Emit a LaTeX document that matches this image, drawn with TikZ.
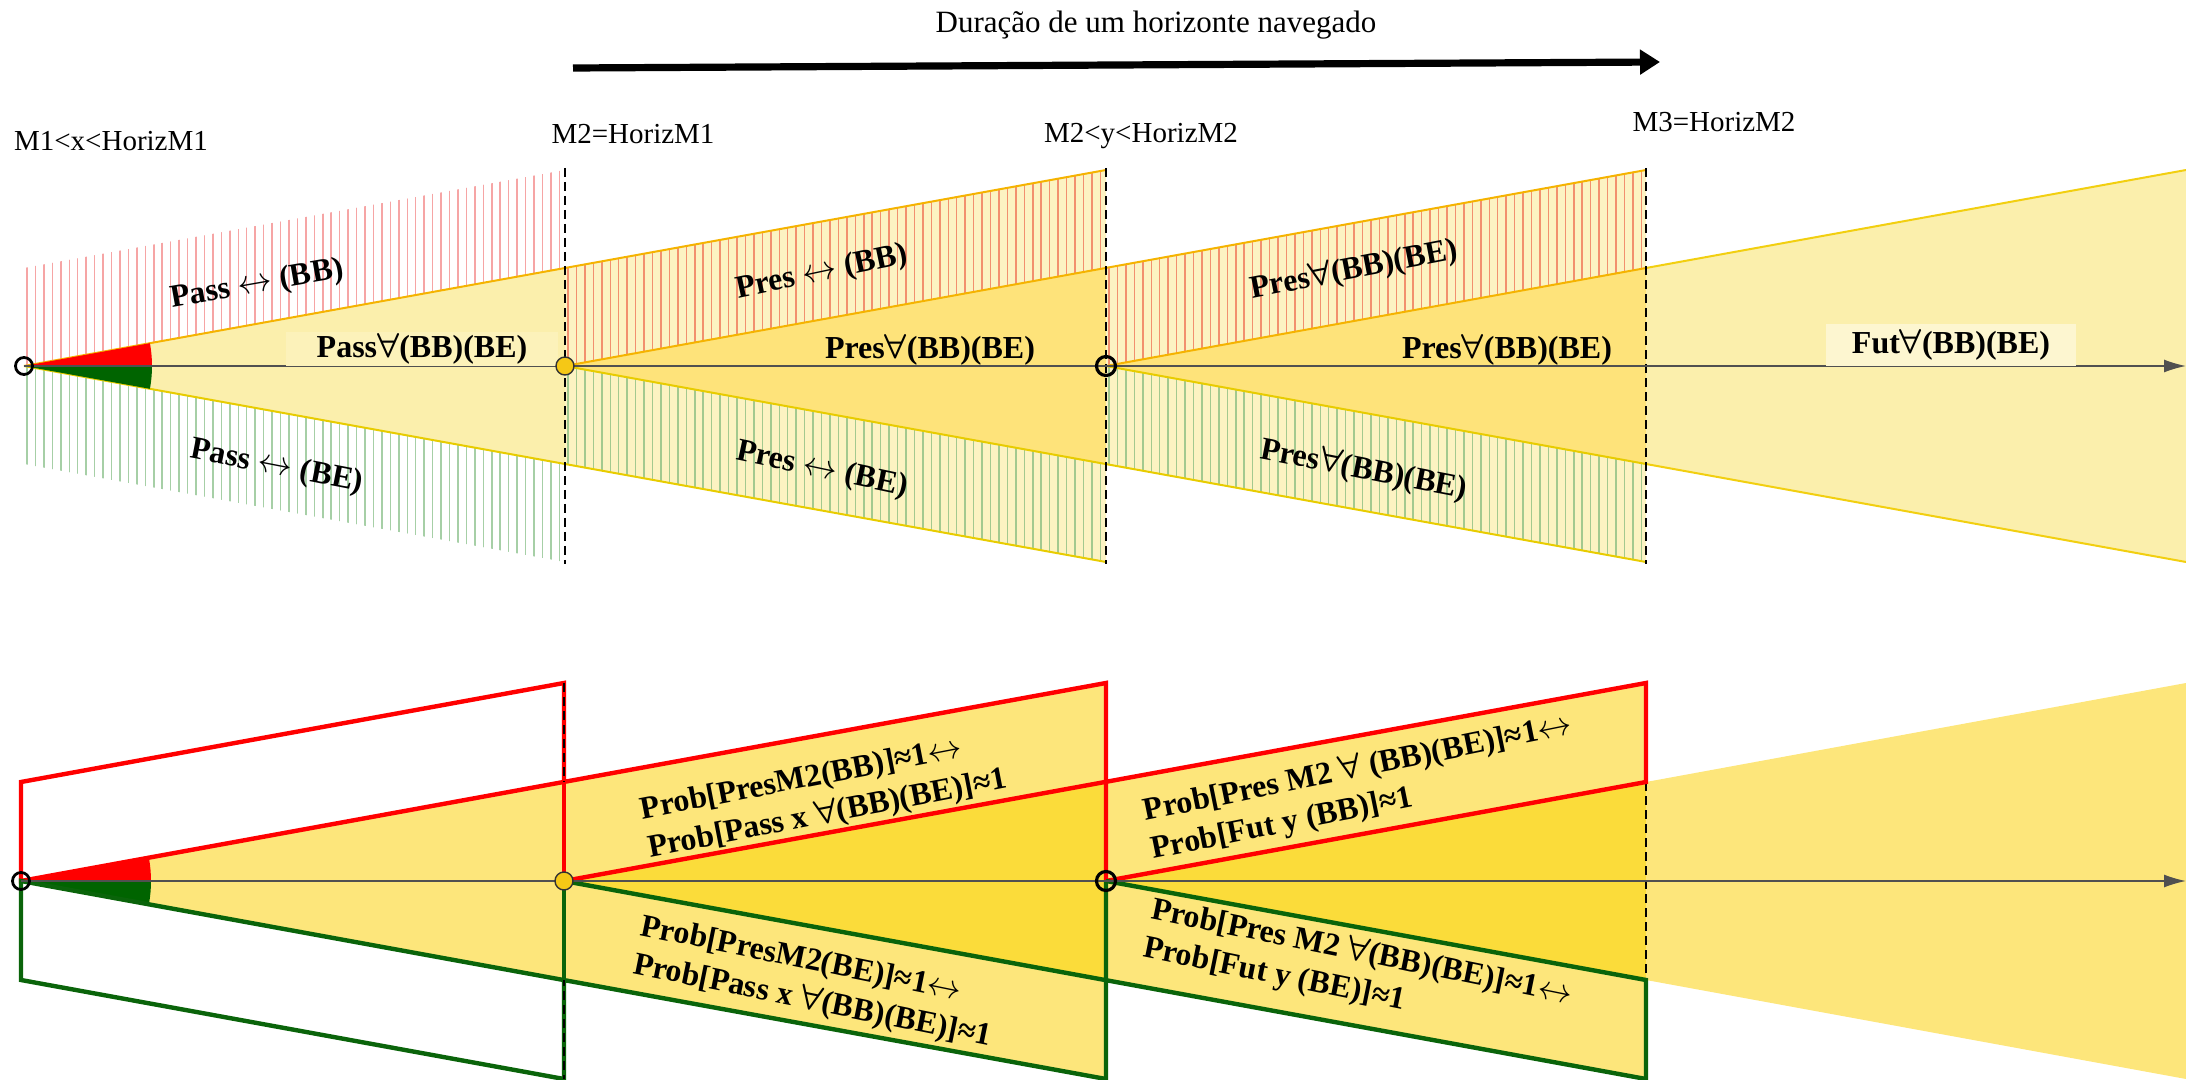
\documentclass[tikz,border=0pt]{standalone}
\usepackage{fontspec}
\setmainfont{Liberation Serif}
\usetikzlibrary{arrows.meta}
\newcommand\fa{{\boldmath$\forall$}}
\newcommand\lra{$\leftrightarrow$}
\definecolor{paleY}{HTML}{FBEFAC}
\definecolor{paleYb}{HTML}{FCF3C2}
\definecolor{goldY}{HTML}{FEE37A}
\definecolor{botY}{HTML}{FDE67B}
\definecolor{botG}{HTML}{FBDC3A}
\definecolor{boxF}{HTML}{FDF6D0}
\definecolor{boxP}{HTML}{FCF2BA}
\definecolor{hRa}{HTML}{F6A5A5}
\definecolor{hGa}{HTML}{A6CFA6}
\definecolor{hRb}{HTML}{F2906E}
\definecolor{hGb}{HTML}{A3C98F}
\definecolor{edgeOc}{HTML}{F5B300}
\definecolor{edgeYc}{HTML}{E8CC00}
\definecolor{edgeYd}{HTML}{F2CF10}
\definecolor{dgreen}{HTML}{006400}
\definecolor{lgreen}{HTML}{0A640A}
\definecolor{axc}{HTML}{505050}
\definecolor{dotY}{HTML}{F5C816}
\begin{document}
\begin{tikzpicture}[x=0.5pt,y=-0.5pt,
  lab/.style={font=\fontsize{16}{19.5}\selectfont\bfseries, inner sep=0pt},
  blab/.style={font=\fontsize{16}{19.5}\selectfont\bfseries, inner sep=0pt, align=left},
  mlab/.style={font=\fontsize{14.5}{17}\selectfont, inner sep=0pt, anchor=base},
  hatchRa/.style={draw=hRa, line width=0.75pt},
  hatchGa/.style={draw=hGa, line width=0.75pt},
  hatchRb/.style={draw=hRb, line width=0.75pt},
  hatchGb/.style={draw=hGb, line width=0.75pt},
  edgeO/.style={draw=edgeOc, line width=1pt},
  edgeY/.style={draw=edgeYc, line width=1pt},
  edgeYY/.style={draw=edgeYd, line width=1pt},
  dashln/.style={draw=black, line width=1.2pt, dash pattern=on 4.5pt off 2.5pt},
  axisln/.style={draw=axc, line width=0.75pt, -{Latex[length=11pt,width=6.5pt]}},
  redln/.style={draw=red, line width=2.2pt, line join=miter},
  greenln/.style={draw=lgreen, line width=2.2pt, line join=miter},
  ringc/.style={circle, draw=black, line width=1.4pt, minimum size=8.5pt, inner sep=0pt},
  dotc/.style={circle, draw=black!80, fill=dotY, line width=0.7pt, minimum size=9pt, inner sep=0pt}
]
\useasboundingbox (0,0) rectangle (2186,1080);

% ================= TITLE =================
\node[font=\fontsize{15.5}{18}\selectfont, anchor=base, inner sep=0pt] (title) at (1156,33) {Duração de um horizonte navegado};
\coordinate (ta) at (573,68);
\coordinate (tb) at (1660,62);
\draw[line width=3.6pt, -{Triangle[length=10pt,width=12pt]}] (ta) -- (tb);

% ================= TOP PANEL =================
\begin{scope}
  \clip (24,268) -- (565,170) -- (565,268) -- (24,366) -- cycle;
  \foreach \x in {27,35.45,...,566} \draw[hatchRa] (\x,150) -- (\x,380);
\end{scope}
\begin{scope}
  \clip (24,366) -- (565,464) -- (565,562) -- (24,464) -- cycle;
  \foreach \x in {27,35.45,...,566} \draw[hatchGa] (\x,350) -- (\x,580);
\end{scope}
\fill[paleY] (24,366) -- (565,268) -- (565,464) -- cycle;
\fill[paleYb] (565,268) -- (1106,170) -- (1106,562) -- (565,464) -- cycle;
\begin{scope}
  \clip (565,268) -- (1106,170) -- (1106,268) -- (565,366) -- cycle;
  \foreach \x in {568,576.45,...,1107} \draw[hatchRb] (\x,150) -- (\x,380);
\end{scope}
\begin{scope}
  \clip (565,366) -- (1106,464) -- (1106,562) -- (565,464) -- cycle;
  \foreach \x in {568,576.45,...,1107} \draw[hatchGb] (\x,350) -- (\x,580);
\end{scope}
\fill[goldY] (565,366) -- (1106,268) -- (1106,464) -- cycle;
\fill[paleYb] (1106,268) -- (1646,170) -- (1646,562) -- (1106,464) -- cycle;
\begin{scope}
  \clip (1106,268) -- (1646,170) -- (1646,268) -- (1106,366) -- cycle;
  \foreach \x in {1109,1117.45,...,1647} \draw[hatchRb] (\x,150) -- (\x,380);
\end{scope}
\begin{scope}
  \clip (1106,366) -- (1646,464) -- (1646,562) -- (1106,464) -- cycle;
  \foreach \x in {1109,1117.45,...,1647} \draw[hatchGb] (\x,350) -- (\x,580);
\end{scope}
\fill[goldY] (1106,366) -- (1646,268) -- (1646,464) -- cycle;
\fill[paleY] (1646,268) -- (2186,170) -- (2186,562) -- (1646,464) -- cycle;
% cone edges
\draw[edgeO] (24,366) -- (1106,170);
\draw[edgeO] (565,366) -- (1646,170);
\draw[edgeO] (1106,366) -- (1646,268);
\draw[edgeYY] (1646,268) -- (2186,170);
\draw[edgeY] (24,366) -- (1106,562);
\draw[edgeY] (565,366) -- (1646,562);
\draw[edgeY] (1106,366) -- (1646,464);
\draw[edgeYY] (1646,464) -- (2186,562);
% wedges
\fill[red] (24,366) -- (152,366) arc[start angle=0, end angle=-10.27, radius=128] -- cycle;
\fill[dgreen] (24,366) -- (152,366) arc[start angle=0, end angle=10.27, radius=128] -- cycle;
% dashed verticals
\draw[dashln] (565,168) -- (565,564);
\draw[dashln] (1106,168) -- (1106,564);
\draw[dashln] (1646,168) -- (1646,564);
% axis
\coordinate (O1) at (24,366);
\coordinate (E1) at (2186,366);
\draw[axisln] (O1) -- (E1);
% labels
\node[lab, fill=boxP, minimum width=136pt, minimum height=17pt] (pass) at (422,349) {Pass\fa(BB)(BE)};
\node[lab, fill=boxF, minimum width=125pt, minimum height=21pt] (fut) at (1951,345) {Fut\fa(BB)(BE)};
\node[lab] (pres2) at (930,350) {Pres\fa(BB)(BE)};
\node[lab] (pres3) at (1507,350) {Pres\fa(BB)(BE)};
\node[lab, rotate=10] (passbb) at (257,285) {Pass \lra{} (BB)};
\node[lab, rotate=-11] (passbe) at (277,467) {Pass \lra{} (BE)};
\node[lab, rotate=12] (presbb) at (822,273) {Pres \lra{} (BB)};
\node[lab, rotate=-12] (presbe) at (822,470) {Pres \lra{} (BE)};
\node[lab, rotate=11] (pres3u) at (1354,270) {Pres\fa(BB)(BE)};
\node[lab, rotate=-11] (pres3l) at (1364,470) {Pres\fa(BB)(BE)};
% circles
\node[ringc] (c1) at (O1) {};
\node[dotc] (c2) at (565,366) {};
\node[ringc, line width=1.6pt, minimum size=9.5pt] (c3) at (1106,366) {};
% moment labels
\node[mlab] (m1) at (111,151) {M1<x<HorizM1};
\node[mlab] (m2) at (633,144) {M2=HorizM1};
\node[mlab] (m3) at (1141,143) {M2<y<HorizM2};
\node[mlab] (m4) at (1714,132) {M3=HorizM2};

% ================= BOTTOM PANEL =================
\fill[botY] (21,881) -- (564,782) -- (564,980) -- cycle;
\fill[botY] (564,782) -- (1106,683) -- (1106,1079) -- (564,980) -- cycle;
\fill[botG] (564,881) -- (1106,782) -- (1106,980) -- cycle;
\fill[botY] (1106,782) -- (1646,683) -- (1646,1079) -- (1106,980) -- cycle;
\fill[botG] (1106,881) -- (1646,782) -- (1646,980) -- cycle;
\fill[botY] (1646,782) -- (2186,683) -- (2186,1079) -- (1646,980) -- cycle;
\fill[red] (21,881) -- (151,881) arc[start angle=0, end angle=-10.33, radius=130] -- cycle;
\fill[dgreen] (21,881) -- (151,881) arc[start angle=0, end angle=10.33, radius=130] -- cycle;
\draw[redln] (564,782) -- (564,683) -- (21,782) -- (21,881) -- (1106,683) -- (1106,881);
\draw[greenln] (564,980) -- (564,1079) -- (21,980) -- (21,881) -- (1106,1079) -- (1106,881);
\draw[dashln] (564,683) -- (564,1079);
\draw[dashln] (1646,782) -- (1646,980);
\draw[redln] (564,881) -- (564,782);
\draw[redln] (564,881) -- (1646,683) -- (1646,782) -- (1106,881);
\draw[greenln] (564,881) -- (564,980);
\draw[greenln] (564,881) -- (1646,1079) -- (1646,980) -- (1106,881);
\coordinate (O2) at (21,881);
\coordinate (E2) at (2186,881);
\draw[axisln] (O2) -- (E2);
\node[ringc] (d1) at (O2) {};
\node[dotc] (d2) at (564,881) {};
\node[ringc, line width=1.6pt, minimum size=9.5pt] (d3) at (1106,881) {};
\node[blab, rotate=11] (p2u) at (824,796) {Prob[PresM2(BB)]≈1\lra\\Prob[Pass x \fa(BB)(BE)]≈1};
\node[blab, rotate=-11.5] (p2l) at (816,983) {Prob[PresM2(BE)]≈1\lra\\Prob[Pass x \fa(BB)(BE)]≈1};
\node[blab, rotate=11.5] (p3u) at (1362,788) {Prob[Pres M2 \fa{} (BB)(BE)]≈1\lra\\Prob[Fut y (BB)]≈1};
\node[blab, rotate=-11.5] (p3l) at (1358,972) {Prob[Pres M2 \fa(BB)(BE)]≈1\lra\\Prob[Fut y (BE)]≈1};
\end{tikzpicture}
\end{document}
